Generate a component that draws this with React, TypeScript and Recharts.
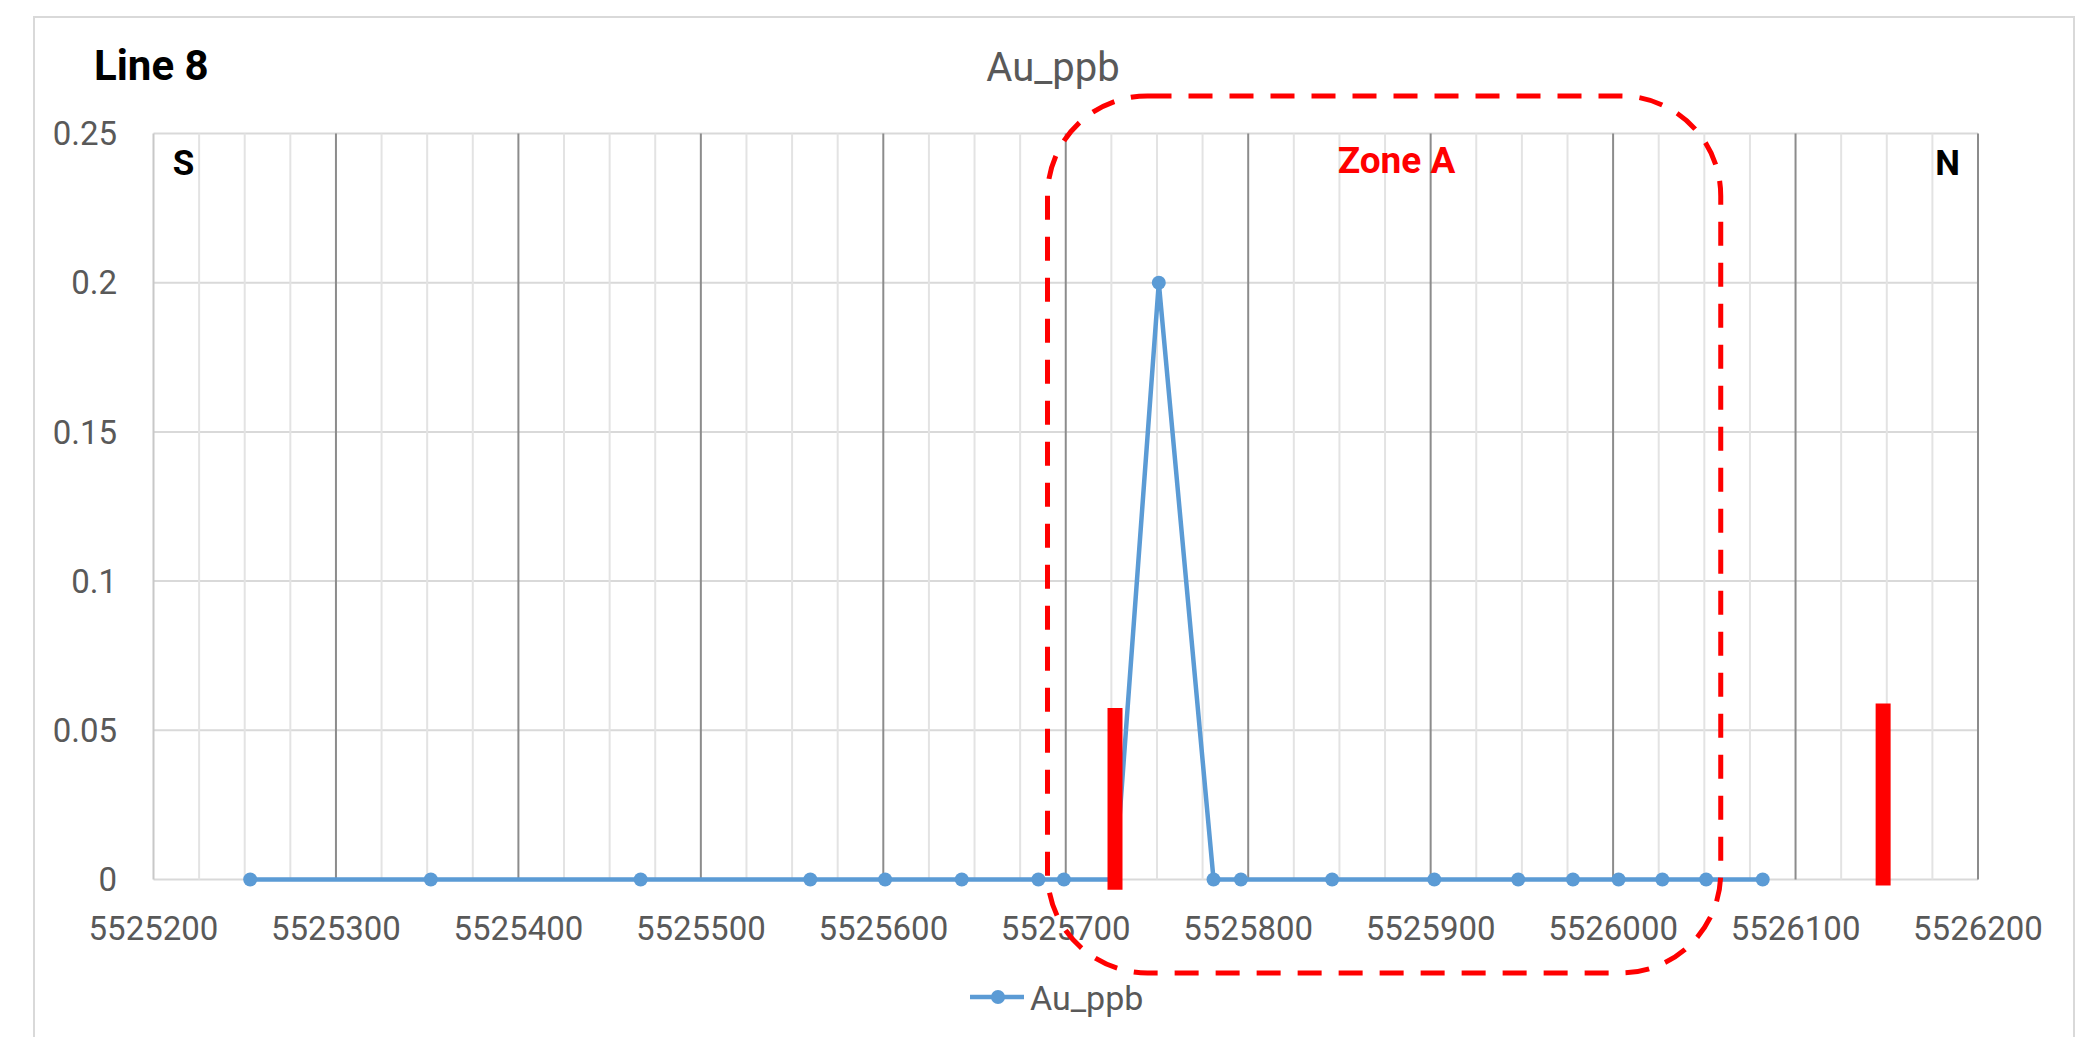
import React from 'react';
import { LineChart, Line, XAxis, YAxis, CartesianGrid, ReferenceLine, ReferenceArea } from 'recharts';

// sample positions (northing) and gold values along Line 8
const northing = [
  5525253, 5525352, 5525467, 5525560, 5525601, 5525643, 5525685, 5525699, 5525727, 5525751,
  5525781, 5525796, 5525846, 5525902, 5525948, 5525978, 5526003, 5526027, 5526051, 5526082,
];
const auPpb = [0, 0, 0, 0, 0, 0, 0, 0, 0, 0.2, 0, 0, 0, 0, 0, 0, 0, 0, 0, 0];

const xTicks = [5525200, 5525300, 5525400, 5525500, 5525600, 5525700, 5525800, 5525900, 5526000, 5526100, 5526200];
const yTicks = [0, 0.05, 0.1, 0.15, 0.2, 0.25];

// red marker bars drawn on the section
const barX = [5525727, 5526148];
const barTop = [0.0575, 0.059];
const barBottom = [-0.0034, -0.002];

// dashed outline around Zone A
const zoneX = [5525690, 5526059];
const zoneY = [-0.0313, 0.2626];

const minorGrid = xTicks.slice(0, -1).flatMap((t) => [t + 25, t + 50, t + 75]);
const majorGrid = xTicks.slice(1);

const data = northing.map((n, i) => ({ n, au: auPpb[i] }));

const FONT = 'Roboto';
const BLUE = '#5b9bd5';
const GREY_TEXT = '#595959';

const ZoneBox = (props: any) => {
  const { x, y, width, height } = props;
  return (
    <rect
      x={x}
      y={y}
      width={width}
      height={height}
      rx={100}
      ry={100}
      fill="none"
      stroke="#ff0000"
      strokeWidth={5}
      strokeDasharray="24 17"
    />
  );
};

const App = () => {
  return (
    <div style={{ position: 'fixed', left: 0, top: 0, width: 2093, height: 1037, overflow: 'hidden', background: '#fff' }}>
      <LineChart
        width={2093}
        height={1037}
        data={data}
        margin={{ top: 133.5, right: 115, bottom: 97.5, left: 53.5 }}
      >
        <CartesianGrid vertical={false} stroke="#d9d9d9" strokeWidth={2} />
        {minorGrid.map((v) => (
          <ReferenceLine key={`mi-${v}`} x={v} stroke="#e3e3e3" strokeWidth={2} zIndex={-50} />
        ))}
        <ReferenceLine x={5525200} stroke="#c8c8c8" strokeWidth={2} zIndex={-50} />
        {majorGrid.map((v) => (
          <ReferenceLine key={`ma-${v}`} x={v} stroke="#8c8c8c" strokeWidth={2} zIndex={-50} />
        ))}
        <XAxis
          dataKey="n"
          type="number"
          domain={[5525200, 5526200]}
          ticks={xTicks}
          allowDataOverflow
          height={60}
          axisLine={false}
          tickLine={false}
          tickMargin={31}
          tick={{ fill: GREY_TEXT, fontSize: 33, fontFamily: FONT }}
        />
        <YAxis
          type="number"
          domain={[0, 0.25]}
          ticks={yTicks}
          width={100}
          axisLine={false}
          tickLine={false}
          tickMargin={30.5}
          tick={{ fill: GREY_TEXT, fontSize: 33, fontFamily: FONT }}
        />
        <Line
          type="linear"
          dataKey="au"
          stroke={BLUE}
          strokeWidth={4.5}
          dot={{ r: 7, fill: BLUE, stroke: BLUE, strokeWidth: 0 }}
          isAnimationActive={false}
        />
        {barX.map((x, i) => (
          <ReferenceLine
            key={`bar-${i}`}
            segment={[{ x, y: barBottom[i] }, { x, y: barTop[i] }]}
            stroke="#ff0000"
            strokeWidth={15}
            ifOverflow="visible"
            zIndex={2000}
          />
        ))}
        <ReferenceArea
          x1={zoneX[0]}
          x2={zoneX[1]}
          y1={zoneY[0]}
          y2={zoneY[1]}
          ifOverflow="visible"
          zIndex={2000}
          shape={<ZoneBox />}
        />
      </LineChart>

      <svg width={2093} height={1037} style={{ position: 'absolute', left: 0, top: 0, pointerEvents: 'none' }}>
        <rect x={34} y={17} width={2040} height={1100} fill="none" stroke="#d9d9d9" strokeWidth={2} />
        <text x={94} y={80} fontFamily={FONT} fontWeight="bold" fontSize={42} fill="#000">Line 8</text>
        <text x={1053} y={81} textAnchor="middle" fontFamily={FONT} fontSize={40} fill={GREY_TEXT}>Au_ppb</text>
        <text x={183.5} y={175} textAnchor="middle" fontFamily={FONT} fontWeight="bold" fontSize={35} fill="#000">S</text>
        <text x={1947.5} y={175} textAnchor="middle" fontFamily={FONT} fontWeight="bold" fontSize={35} fill="#000">N</text>
        <text x={1396.5} y={173} textAnchor="middle" fontFamily={FONT} fontWeight="bold" fontSize={37} fill="#ff0000">Zone A</text>
        <line x1={970} y1={997} x2={1024} y2={997} stroke={BLUE} strokeWidth={4.5} />
        <circle cx={998} cy={997} r={7} fill={BLUE} />
        <text x={1030} y={1010} fontFamily={FONT} fontSize={34} fill={GREY_TEXT}>Au_ppb</text>
      </svg>
    </div>
  );
};

export default App;
